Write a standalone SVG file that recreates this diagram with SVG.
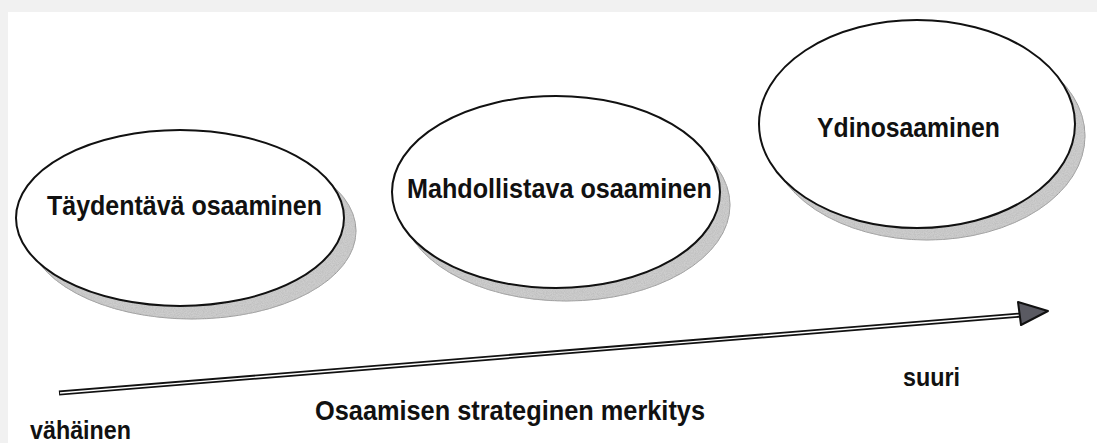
<svg xmlns="http://www.w3.org/2000/svg" width="1097" height="443" viewBox="0 0 1097 443">
<defs>
<style>
.lbl{font-family:"Liberation Sans",Arial,sans-serif;font-weight:bold;fill:#111;}
.node{font-size:27px;text-anchor:middle;}
.ax{font-size:25px;}
.shadow{fill:#cdcdcd;stroke:#9a9a9a;stroke-width:1;filter:url(#speckle);}
.oval{fill:#fff;stroke:#111;stroke-width:2;}
</style>
<filter id="speckle" x="-5%" y="-5%" width="110%" height="110%">
<feTurbulence type="fractalNoise" baseFrequency="0.9" numOctaves="2" seed="3" result="n"/>
<feColorMatrix in="n" type="matrix" values="0 0 0 0 0.5  0 0 0 0 0.5  0 0 0 0 0.5  0 0 0 1.6 -0.5" result="dots"/>
<feComposite in="dots" in2="SourceGraphic" operator="in" result="d2"/>
<feMerge><feMergeNode in="SourceGraphic"/><feMergeNode in="d2"/></feMerge>
</filter>
</defs>
<rect x="0" y="0" width="1097" height="443" fill="#f1f1f1"/>
<rect x="8" y="12" width="1089" height="431" fill="#fff"/>

<g id="node-taydentava">
<ellipse class="shadow" cx="192" cy="231" rx="164" ry="88"/>
<ellipse class="oval" cx="180" cy="218" rx="164" ry="88"/>
<text class="lbl node" x="184.5" y="215" textLength="275" lengthAdjust="spacingAndGlyphs">Täydentävä osaaminen</text>
</g>

<g id="node-mahdollistava">
<ellipse class="shadow" cx="566" cy="205" rx="164" ry="96"/>
<ellipse class="oval" cx="556" cy="192" rx="164" ry="96"/>
<text class="lbl node" x="559.5" y="198" textLength="305" lengthAdjust="spacingAndGlyphs">Mahdollistava osaaminen</text>
</g>

<g id="node-ydin">
<ellipse class="shadow" cx="927" cy="136" rx="158" ry="104"/>
<ellipse class="oval" cx="917" cy="124" rx="158" ry="104"/>
<text class="lbl node" x="908.5" y="137" textLength="183" lengthAdjust="spacingAndGlyphs">Ydinosaaminen</text>
</g>

<g id="connectors">
<line x1="59" y1="393" x2="1021" y2="315" stroke="#111" stroke-width="5"/>
<line x1="60" y1="393" x2="1021" y2="315" stroke="#fff" stroke-width="1.4"/>
<polygon points="1048,311 1018,302 1021,325" fill="#5a5a62" stroke="#111" stroke-width="2" stroke-linejoin="round"/>
</g>

<g id="labels">
<text class="lbl ax" x="30" y="439" textLength="101" lengthAdjust="spacingAndGlyphs">vähäinen</text>
<text class="lbl ax" x="903" y="386" textLength="57" lengthAdjust="spacingAndGlyphs">suuri</text>
<text class="lbl" x="315" y="420" style="font-size:27px" textLength="390" lengthAdjust="spacingAndGlyphs">Osaamisen strateginen merkitys</text>
</g>
</svg>
